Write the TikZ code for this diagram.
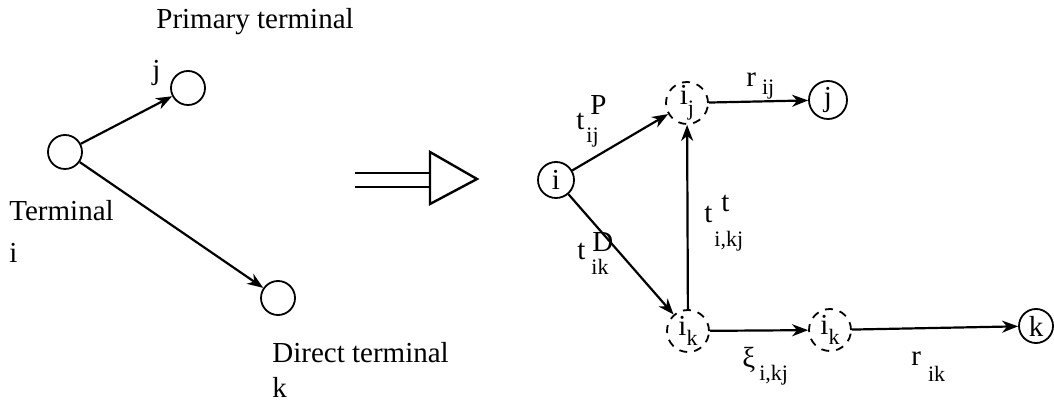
\documentclass[tikz,border=0pt]{standalone}
\usepackage{fontspec}
\setmainfont{Liberation Serif}
\usepackage{tikz}
\usetikzlibrary{arrows.meta,positioning}
% base letter with a raised and a lowered part
\newcommand{\smallidx}{\fontsize{11}{12}\selectfont}
\newcommand{\supsub}[5]{#1\makebox[0pt][l]{\raisebox{#2}{#3}}\raisebox{#4}{\smallidx #5}}

\begin{document}
\begin{tikzpicture}[x=0.5pt,y=-0.5pt,>={Stealth[length=8pt,width=6pt,inset=2.5pt]},
  font=\fontsize{14.5}{16}\selectfont]
\tikzstyle{vertex}=[circle,draw=black,line width=0.9pt,minimum size=17pt,inner sep=0pt]
\tikzstyle{cvertex}=[vertex,dash pattern=on 4pt off 3.5pt,minimum size=21pt]
\tikzstyle{arc}=[draw,->,line width=1.1pt]
\tikzstyle{lbl}=[anchor=base west,inner sep=0pt]
\useasboundingbox (0,0) rectangle (1054,416);

% terminals before splitting
\node [vertex] (i) at (65,152) {};
\node [vertex] (j) at (188,88) {};
\node [vertex] (k) at (278,298) {};
\node [lbl] (prim) at (156,29) {Primary terminal};
\node [lbl] (jname) at (152,80) {j};
\node [lbl] (term) at (9,221) {Terminal};
\node [lbl] (iname) at (9,263) {i};
\node [lbl] (dir) at (272,363) {Direct terminal};
\node [lbl] (kname) at (272,398) {k};

\path (i) edge [arc] (j);
\path (i) edge [arc] (k);

% big hollow arrow
\draw [line width=1.2pt] (355,173) -- (430,173);
\draw [line width=1.2pt] (355,187) -- (430,187);
\draw [line width=1.2pt,line join=miter] (430,152) -- (477,179) -- (430,204) -- cycle;

% split network
\node [vertex,minimum size=18pt] (ri) at (556,180) {i};
\node [cvertex] (ij) at (687,103) {i\raisebox{-0.8ex}{\smallidx j}};
\node [vertex,minimum size=19pt] (rj) at (828,100) {j};
\node [cvertex] (ik) at (688,331) {i\raisebox{-0.8ex}{\smallidx k}};
\node [cvertex] (ik2) at (830,330) {i\raisebox{-0.8ex}{\smallidx k}};
\node [vertex] (rk) at (1036,326) {k};

\path (ri) edge [arc] (ij);
\path (ri) edge [arc] (ik);
\path (ik) edge [arc] (ij);
\path (ij) edge [arc] (rj);
\path (ik) edge [arc] (ik2);
\path (ik2) edge [arc] (rk);

\node [lbl] (tp) at (576,130) {\supsub{t}{7.5pt}{\hspace{3pt}P}{-6.5pt}{\hspace{1pt}ij}};
\node [lbl] (td) at (577,260) {\supsub{t}{4pt}{\hspace{3.5pt}D}{-7.5pt}{\hspace{3pt}ik}};
\node [lbl] (tt) at (704,223) {\supsub{t}{5.5pt}{\hspace{4.5pt}t}{-12pt}{\hspace{1pt}i,kj}};
\node [lbl] (rr) at (746,87) {\supsub{r}{0pt}{}{-4pt}{\hspace{3pt}ij}};
\node [lbl] (xi) at (742,368) {\supsub{ξ}{0pt}{}{-6pt}{\hspace{2pt}i,kj}};
\node [lbl] (rk2) at (911,365) {\supsub{r}{0pt}{}{-8.5pt}{\hspace{3.5pt}ik}};
\end{tikzpicture}
\end{document}
